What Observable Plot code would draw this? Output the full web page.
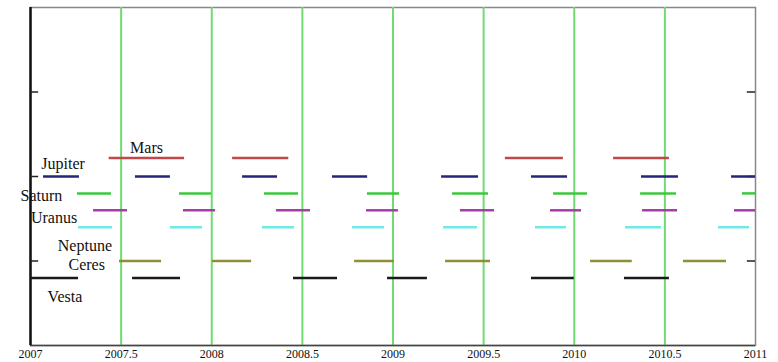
<!DOCTYPE html>
<html>
<head>
<meta charset="utf-8">
<script src="https://cdn.jsdelivr.net/npm/d3@7"></script>
<script src="https://cdn.jsdelivr.net/npm/@observablehq/plot@0.6"></script>
<style>
  body { margin: 0; background: #fff; }
</style>
</head>
<body>
<div id="chart"></div>
<script>
// Time axis (years) and the half-year marker lines
const xTicks = [2007, 2007.5, 2008, 2008.5, 2009, 2009.5, 2010, 2010.5, 2011];
const markerYears = [2007.5, 2008, 2008.5, 2009, 2009.5, 2010, 2010.5];
const yTicks = [1, 2, 3];

// Bodies, their row level and colour
const bodies = ["Mars", "Jupiter", "Saturn", "Uranus", "Neptune", "Ceres", "Vesta"];
const rowLevel = [2.22, 2.0, 1.8, 1.6, 1.4, 1.0, 0.8];
const bodyColors = ["#c04848", "#25257a", "#3cc83c", "#a83ca8", "#70e8e8", "#8f8f35", "#1a1a1a"];

// Label placement for each body (year, level)
const labelX = [2007.64, 2007.18, 2007.06, 2007.13, 2007.30, 2007.31, 2007.19];
const labelY = [2.34, 2.15, 1.775, 1.51, 1.18, 0.96, 0.57];

// Visibility spans per body: [start, end] in years
const marsSpans = [[2007.434, 2007.85], [2008.115, 2008.425], [2009.62, 2009.94], [2010.217, 2010.525]];
const jupiterSpans = [[2007.072, 2007.27], [2007.579, 2007.772], [2008.17, 2008.363], [2008.666, 2008.86],
  [2009.268, 2009.472], [2009.764, 2009.963], [2010.371, 2010.575], [2010.868, 2011]];
const saturnSpans = [[2007.259, 2007.447], [2007.822, 2007.999], [2008.291, 2008.479], [2008.859, 2009.036],
  [2009.328, 2009.527], [2009.886, 2010.073], [2010.366, 2010.564], [2010.928, 2011]];
const uranusSpans = [[2007.348, 2007.535], [2007.844, 2008.021], [2008.357, 2008.545], [2008.854, 2009.03],
  [2009.372, 2009.56], [2009.869, 2010.04], [2010.377, 2010.57], [2010.884, 2011]];
const neptuneSpans = [[2007.265, 2007.452], [2007.772, 2007.949], [2008.28, 2008.457], [2008.777, 2008.953],
  [2009.279, 2009.466], [2009.786, 2009.957], [2010.283, 2010.481], [2010.796, 2010.967]];
const ceresSpans = [[2007.491, 2007.723], [2008.004, 2008.22], [2008.788, 2009.008], [2009.29, 2009.538],
  [2010.09, 2010.32], [2010.603, 2010.84]];
const vestaSpans = [[2007.0, 2007.265], [2007.563, 2007.828], [2008.451, 2008.694], [2008.97, 2009.19],
  [2009.764, 2010.0], [2010.277, 2010.525]];

const allSpans = [marsSpans, jupiterSpans, saturnSpans, uranusSpans, neptuneSpans, ceresSpans, vestaSpans];

// Flatten into one table of segments
const segments = allSpans.flatMap((spans, i) =>
  spans.map(([x1, x2]) => ({ body: bodies[i], x1, x2, y: rowLevel[i], color: bodyColors[i] }))
);
const labels = bodies.map((name, i) => ({ name, x: labelX[i], y: labelY[i] }));

const chart = Plot.plot({
  width: 778,
  height: 362,
  marginLeft: 30,
  marginRight: 23,
  marginTop: 7,
  marginBottom: 17,
  style: { fontFamily: "'Liberation Serif', serif", fontSize: "12px", background: "#fff" },
  x: { domain: [2007, 2011] },
  y: { domain: [0, 4] },
  marks: [
    Plot.frame({ stroke: "#888", strokeWidth: 1.5 }),
    Plot.ruleX(markerYears, { stroke: "#72da72", strokeWidth: 2 }),
    Plot.ruleY([0], { stroke: "#444", strokeWidth: 1.5 }),
    Plot.ruleX([2007], { stroke: "#111", strokeWidth: 2.5 }),
    // inward ticks on both vertical axes
    Plot.ruleY(yTicks, { x1: 2007, x2: 2007.045, stroke: "#222", strokeWidth: 1.5 }),
    Plot.ruleY(yTicks, { x1: 2010.955, x2: 2011, stroke: "#222", strokeWidth: 1.5 }),
    Plot.ruleY(segments, { x1: "x1", x2: "x2", y: "y", stroke: "color", strokeWidth: 2.5 }),
    Plot.text(labels, {
      x: "x", y: "y", text: "name", fontSize: 16, fill: "#111",
      fontFamily: "'Liberation Serif', serif", letterSpacing: "0.8px"
    }),
    Plot.axisX(xTicks, { tickSize: 0, tickPadding: 4, tickFormat: d => String(d), fill: "#111", label: null }),
    Plot.axisY({ ticks: [], label: null })
  ]
});

document.getElementById("chart").append(chart);
</script>
</body>
</html>
